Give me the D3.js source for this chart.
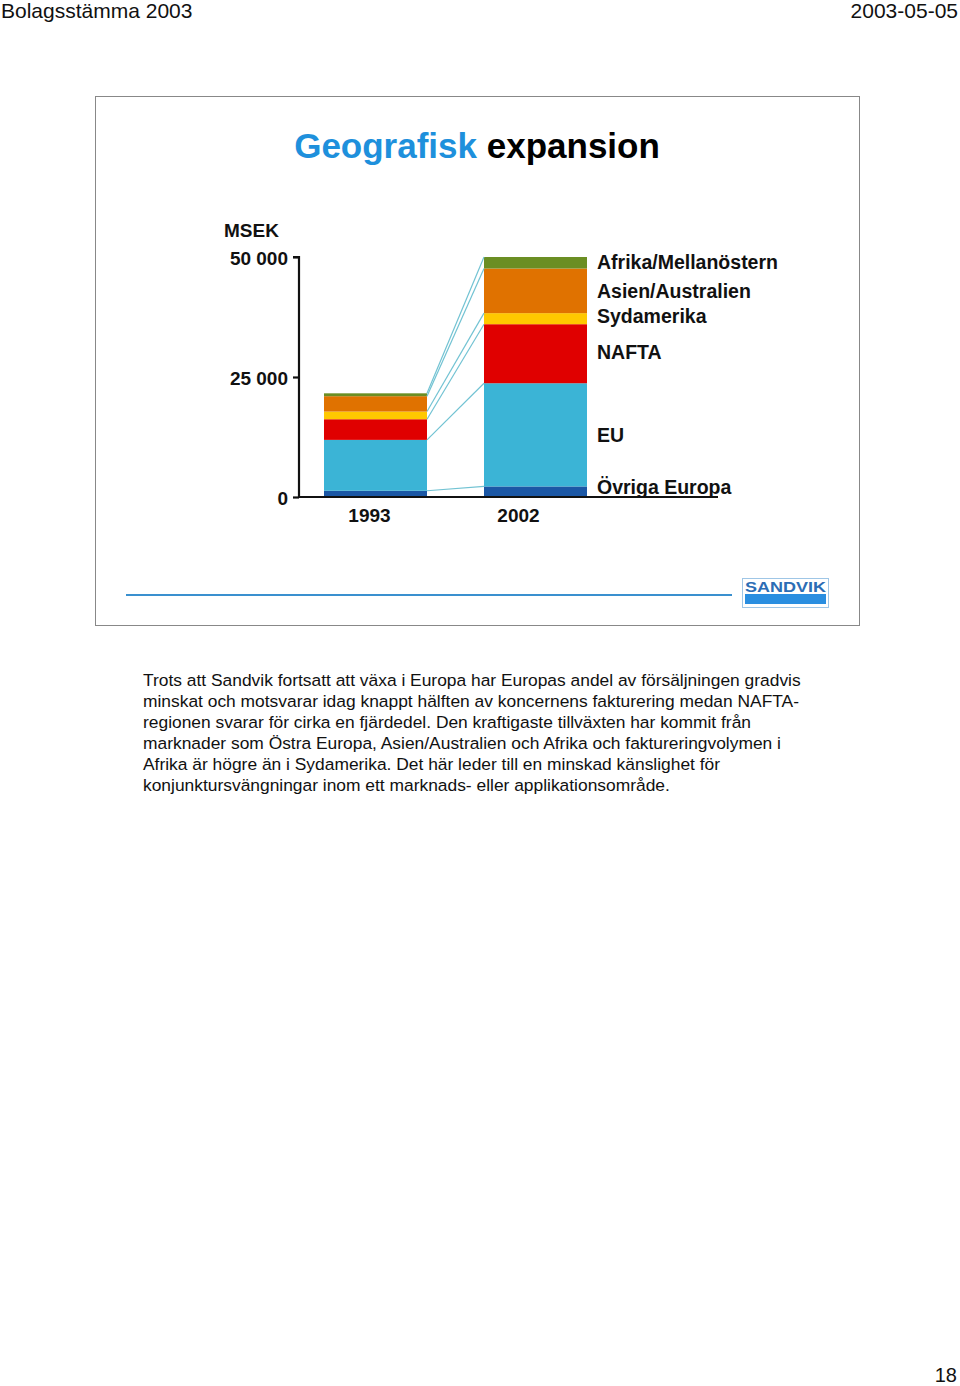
<!DOCTYPE html>
<html><head><meta charset="utf-8">
<script src="https://cdn.jsdelivr.net/npm/d3@7/dist/d3.min.js"></script>
<style>
body{margin:0;background:#fff;}
svg{display:block;font-family:"Liberation Sans",Arial,sans-serif;}
</style></head>
<body>
<svg id="c" width="960" height="1386"></svg>
<script>
const years = ["1993", "2002"];
const regions = ["Övriga Europa", "EU", "NAFTA", "Sydamerika", "Asien/Australien", "Afrika/Mellanöstern"];
const values1993 = [1300, 10600, 4300, 1600, 3200, 600];
const values2002 = [2200, 21500, 12300, 2300, 9300, 2400];
const colors = ["#1b57a5", "#3bb4d6", "#e00000", "#ffc800", "#e07200", "#6b8e23"];
const yTicks = [0, 25000, 50000];
const tickLabels = ["0", "25 000", "50 000"];
const paragraph = [
  "Trots att Sandvik fortsatt att växa i Europa har Europas andel av försäljningen gradvis",
  "minskat och motsvarar idag knappt hälften av koncernens fakturering medan NAFTA-",
  "regionen svarar för cirka en fjärdedel. Den kraftigaste tillväxten har kommit från",
  "marknader som Östra Europa, Asien/Australien och Afrika och faktureringvolymen i",
  "Afrika är högre än i Sydamerika. Det här leder till en minskad känslighet för",
  "konjunktursvängningar inom ett marknads- eller applikationsområde."
];

const svg = d3.select("#c");

// header
svg.append("text").attr("x", 1).attr("y", 18).attr("font-size", 21).attr("fill", "#111").text("Bolagsstämma 2003");
svg.append("text").attr("x", 958).attr("y", 18).attr("font-size", 21).attr("fill", "#111").attr("text-anchor", "end").text("2003-05-05");
svg.append("text").attr("x", 957).attr("y", 1382).attr("font-size", 20).attr("fill", "#111").attr("text-anchor", "end").text("18");

// slide frame
svg.append("rect").attr("x", 95.5).attr("y", 96.5).attr("width", 764).attr("height", 529)
  .attr("fill", "#fff").attr("stroke", "#888").attr("stroke-width", 1);

// title
const title = svg.append("text").attr("x", 477).attr("y", 158).attr("text-anchor", "middle")
  .attr("font-size", 35).attr("font-weight", "bold");
title.append("tspan").attr("fill", "#1e90dc").text("Geografisk");
title.append("tspan").attr("fill", "#000").text(" expansion");

// scales
const y = d3.scaleLinear().domain([0, 50000]).range([497, 257]);
const x = d3.scaleBand().domain(years).range([324, 587]).paddingInner(57 / 160).paddingOuter(0);

const data = years.map((yr, i) => {
  const vals = i === 0 ? values1993 : values2002;
  let acc = 0;
  return vals.map((v, j) => { const s = {year: yr, region: regions[j], y0: acc, y1: acc + v, color: colors[j]}; acc += v; return s; });
});

const g = svg.append("g");
data.forEach(stack => {
  g.selectAll(null).data(stack).enter().append("rect")
    .attr("x", d => x(d.year))
    .attr("width", x.bandwidth())
    .attr("y", d => y(d.y1))
    .attr("height", d => y(d.y0) - y(d.y1))
    .attr("fill", d => d.color);
});

// connector lines from top of each segment
const conn = regions.map((r, j) => ({a: data[0][j], b: data[1][j]}));
g.selectAll(null).data(conn).enter().append("line")
  .attr("x1", x("1993") + x.bandwidth()).attr("y1", d => y(d.a.y1))
  .attr("x2", x("2002")).attr("y2", d => y(d.b.y1))
  .attr("stroke", "#72c3d3").attr("stroke-width", 1.2);

// axis
const axis = d3.axisLeft(y).tickValues(yTicks).tickFormat((d, i) => tickLabels[i]).tickSize(6).tickPadding(5);
const ag = svg.append("g").attr("transform", "translate(299,0)").call(axis);
ag.select(".domain").attr("stroke", "#111").attr("stroke-width", 2.2).attr("d", "M-6," + y(50000) + "H0V" + y(0));
ag.selectAll(".tick line").attr("stroke", "#111").attr("stroke-width", 2.2);
ag.selectAll(".tick text").attr("font-size", 19).attr("font-weight", "bold").attr("fill", "#111")
  .attr("font-family", "'Liberation Sans',Arial,sans-serif").attr("dy", "0.4em");

// baseline
svg.append("line").attr("x1", 298).attr("x2", 718).attr("y1", y(0)).attr("y2", y(0))
  .attr("stroke", "#111").attr("stroke-width", 2.2);

svg.append("text").attr("x", 224).attr("y", 237).attr("font-size", 19).attr("font-weight", "bold").attr("fill", "#111").text("MSEK");

// year labels
const yearShift = [-6, -17];
svg.selectAll(null).data(years).enter().append("text")
  .attr("x", (d, i) => x(d) + x.bandwidth() / 2 + yearShift[i])
  .attr("y", 522).attr("text-anchor", "middle").attr("font-size", 19).attr("font-weight", "bold").attr("fill", "#111")
  .text(d => d);

// legend labels next to 2002 segments
const labelY = data[1].map(d => (y(d.y0) + y(d.y1)) / 2);
labelY[0] = Math.min(labelY[0], y(0) - 10);
labelY[3] = labelY[3] - 3;
labelY[5] = labelY[5] - 1;
labelY[2] = labelY[2] - 2;
svg.selectAll(null).data(regions).enter().append("text")
  .attr("x", 597).attr("y", (d, i) => labelY[i]).attr("dy", "0.35em")
  .attr("font-size", 19.5).attr("font-weight", "bold").attr("fill", "#111")
  .text(d => d);

// footer line
svg.append("line").attr("x1", 126).attr("x2", 732).attr("y1", 595).attr("y2", 595)
  .attr("stroke", "#3a90cf").attr("stroke-width", 2.2);

// logo
svg.append("rect").attr("x", 742.5).attr("y", 578.5).attr("width", 86).attr("height", 29)
  .attr("fill", "#fff").attr("stroke", "#9fc6e6").attr("stroke-width", 1);
svg.append("text").attr("x", 785.5).attr("y", 592).attr("text-anchor", "middle").attr("font-size", 15.5)
  .attr("font-weight", "bold").attr("fill", "#2c6db5").attr("textLength", 81).attr("lengthAdjust", "spacingAndGlyphs").text("SANDVIK");
svg.append("rect").attr("x", 745).attr("y", 594).attr("width", 81).attr("height", 10).attr("fill", "#2a8ee0");

// paragraph
svg.selectAll(null).data(paragraph).enter().append("text")
  .attr("x", 143).attr("y", (d, i) => 686 + i * 21)
  .attr("font-size", 17.4).attr("fill", "#111").text(d => d);
</script>
</body></html>
